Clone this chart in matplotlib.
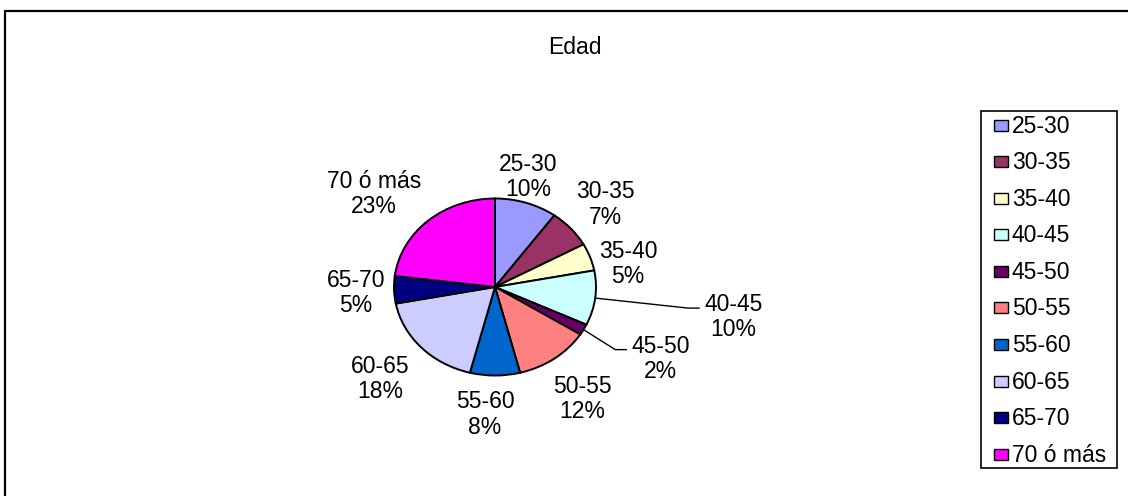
import matplotlib
matplotlib.use('Agg')
import matplotlib.pyplot as plt
import matplotlib.patches as mpatches
import numpy as np

plt.rcParams['font.family'] = ['Liberation Sans', 'DejaVu Sans']

edades = ['25-30', '30-35', '35-40', '40-45', '45-50',
          '50-55', '55-60', '60-65', '65-70', '70 ó más']
porcentajes = [10, 7, 5, 10, 2, 12, 8, 18, 5, 23]
colores = ['#9999FF', '#993366', '#FFFFCC', '#CCFFFF', '#660066',
           '#FF8080', '#0066CC', '#CCCCFF', '#000080', '#FF00FF']

# where each label sits, in pixels from the rim point at the slice's mid angle (x right, y down)
desplaz = [(2, -26), (35, -24), (38, 7), (138, 19), (77, 29),
           (28, 40), (-10, 39), (-41, 31), (-38, 3), (-54, -27)]
con_linea = [False, False, False, True, True, False, False, False, False, False]

W, H = 1128, 496
cx, cy = 495, 287      # pie centre (pixels from top left)
rx, ry = 101, 88.5     # pie is drawn a bit flattened
fs = 16.5

fig = plt.figure(figsize=(W / 100, H / 100), dpi=100)
ax = fig.add_axes([0, 0, 1, 1])
wedges, _ = ax.pie(porcentajes, colors=colores, startangle=90, counterclock=False,
                   wedgeprops=dict(edgecolor='black', linewidth=1.4))
ax.set_aspect('auto')
ax.set_xlim(-cx / rx, (W - cx) / rx)
ax.set_ylim(-(H - cy) / ry, cy / ry)
ax.axis('off')


def px(x, y):
    return (x - cx) / rx, (cy - y) / ry


def fpx(x, y):
    return x / W, 1 - y / H


renderer = fig.canvas.get_renderer()
acum = np.cumsum([0] + porcentajes)
for i, (nombre, p) in enumerate(zip(edades, porcentajes)):
    theta = np.deg2rad(90 - 3.6 * (acum[i] + p / 2))
    bx = cx + rx * np.cos(theta)
    by = cy - ry * np.sin(theta)
    tx, ty = bx + desplaz[i][0], by + desplaz[i][1]
    t = ax.text(*px(tx, ty), '%s\n%d%%' % (nombre, p), ha='center', va='center',
                fontsize=fs, linespacing=1.12)
    if con_linea[i]:
        ancho = t.get_window_extent(renderer).width
        izq = tx - ancho / 2
        xs, ys = zip(px(bx, by), px(izq - 16, ty - 9), px(izq - 5, ty - 9))
        ax.plot(xs, ys, color='black', linewidth=1.0)

fig.text(*fpx(575, 54), 'Edad', ha='center', va='baseline', fontsize=fs)

# legend box on the right
x0, y0, x1, y1 = 981, 111, 1117, 468
fila0, paso = 125.2, 36.55
fig.add_artist(mpatches.Rectangle(fpx(x0, y1), (x1 - x0) / W, (y1 - y0) / H,
                                  transform=fig.transFigure, facecolor='white',
                                  edgecolor='black', linewidth=1.2))
for i, (nombre, c) in enumerate(zip(edades, colores)):
    yf = fila0 + i * paso
    fig.add_artist(mpatches.Rectangle(fpx(994, yf + 5.5), 14 / W, 11 / H,
                                      transform=fig.transFigure, facecolor=c,
                                      edgecolor='black', linewidth=1.0))
    fig.text(*fpx(1012, yf + 1), nombre, ha='left', va='center', fontsize=fs)

# chart area border
fig.add_artist(mpatches.Rectangle((5 / W, -0.1), 1.2, 1.1 - 11 / H, transform=fig.transFigure,
                                  fill=False, edgecolor='black', linewidth=1.6))

plt.savefig('out.png', dpi=100)
